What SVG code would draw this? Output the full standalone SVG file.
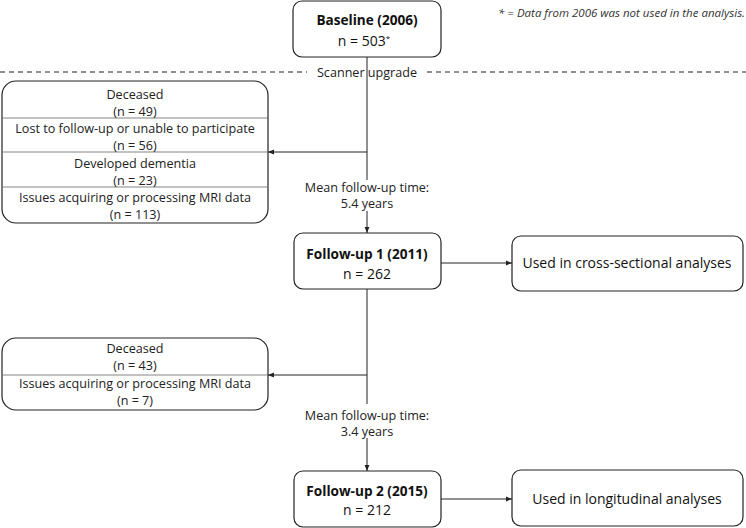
<svg xmlns="http://www.w3.org/2000/svg" width="746" height="528" viewBox="0 0 746 528">
<style>
.box{fill:#fff;stroke:#222;stroke-width:1.2}
.sep{stroke:#666;stroke-width:0.8}
.t{font-family:"Open Sans","Liberation Sans",sans-serif;font-size:12.6px;fill:#222;text-anchor:middle}
.b{font-family:"Open Sans","Liberation Sans",sans-serif;font-size:13.6px;font-weight:bold;fill:#111;text-anchor:middle}
.n{font-family:"Open Sans","Liberation Sans",sans-serif;font-size:14px;fill:#111;text-anchor:middle}
.ln{stroke:#222;stroke-width:1;fill:none}
</style>
<defs>
<marker id="ah" viewBox="0 0 10 10" refX="10" refY="5" markerWidth="6" markerHeight="6" markerUnits="userSpaceOnUse" orient="auto">
<path d="M0,1 L10,5 L0,9 z" fill="#222"/>
</marker>
</defs>
<text x="745" y="17" font-family="'Open Sans','Liberation Sans',sans-serif" font-size="11.5px" font-style="italic" fill="#333" text-anchor="end">* = Data from 2006 was not used in the analysis.</text>
<g id="scanner">
<line x1="0" y1="72" x2="307" y2="72" stroke="#222" stroke-width="1" stroke-dasharray="5,4"/>
<line x1="427" y1="72" x2="746" y2="72" stroke="#222" stroke-width="1" stroke-dasharray="5,4"/>
<text x="367" y="76.5" class="t">Scanner upgrade</text>
</g>
<g id="connectors">
<line class="ln" x1="367" y1="57" x2="367" y2="180"/>
<line class="ln" x1="367" y1="152" x2="268" y2="152" marker-end="url(#ah)"/>
<line class="ln" x1="367" y1="211" x2="367" y2="233" marker-end="url(#ah)"/>
<line class="ln" x1="441" y1="263" x2="512" y2="263" marker-end="url(#ah)"/>
<line class="ln" x1="367" y1="289" x2="367" y2="404"/>
<line class="ln" x1="367" y1="375" x2="268" y2="375" marker-end="url(#ah)"/>
<line class="ln" x1="367" y1="438" x2="367" y2="471" marker-end="url(#ah)"/>
<line class="ln" x1="441" y1="499" x2="512" y2="499" marker-end="url(#ah)"/>
</g>
<g id="baseline">
<rect class="box" x="293" y="1" width="148" height="56" rx="9"/>
<text x="367" y="25" class="b">Baseline (2006)</text>
<text x="364" y="46" class="n">n = 503<tspan font-size="8px" dy="-5">*</tspan></text>
</g>
<g id="excluded1">
<rect class="box" x="2" y="81" width="266" height="142" rx="14"/>
<line class="sep" x1="2" y1="118" x2="268" y2="118"/>
<line class="sep" x1="2" y1="152" x2="268" y2="152"/>
<line class="sep" x1="2" y1="187" x2="268" y2="187"/>
<text x="135" y="99" class="t">Deceased</text>
<text x="135" y="116" class="t">(n = 49)</text>
<text x="135" y="133" class="t">Lost to follow-up or unable to participate</text>
<text x="135" y="150" class="t">(n = 56)</text>
<text x="135" y="168" class="t">Developed dementia</text>
<text x="135" y="185" class="t">(n = 23)</text>
<text x="135" y="202" class="t">Issues acquiring or processing MRI data</text>
<text x="135" y="219" class="t">(n = 113)</text>
</g>
<g id="time1">
<text x="367" y="192" class="t">Mean follow-up time:</text>
<text x="367" y="208" class="t">5.4 years</text>
</g>
<g id="followup1">
<rect class="box" x="294" y="233" width="147" height="56" rx="9"/>
<text x="367" y="259" class="b">Follow-up 1 (2011)</text>
<text x="367" y="279" class="n">n = 262</text>
</g>
<g id="cross">
<rect class="box" x="512" y="236" width="231" height="55" rx="9"/>
<text x="627" y="268" class="n">Used in cross-sectional analyses</text>
</g>
<g id="excluded2">
<rect class="box" x="2" y="338" width="266" height="72" rx="14"/>
<line class="sep" x1="2" y1="375" x2="268" y2="375"/>
<text x="135" y="353" class="t">Deceased</text>
<text x="135" y="370" class="t">(n = 43)</text>
<text x="135" y="388" class="t">Issues acquiring or processing MRI data</text>
<text x="135" y="405" class="t">(n = 7)</text>
</g>
<g id="time2">
<text x="367" y="420" class="t">Mean follow-up time:</text>
<text x="367" y="436" class="t">3.4 years</text>
</g>
<g id="followup2">
<rect class="box" x="294" y="471" width="147" height="56" rx="9"/>
<text x="367" y="496" class="b">Follow-up 2 (2015)</text>
<text x="367" y="515" class="n">n = 212</text>
</g>
<g id="longitudinal">
<rect class="box" x="512" y="470" width="231" height="56" rx="9"/>
<text x="627" y="504" class="n">Used in longitudinal analyses</text>
</g>
</svg>
